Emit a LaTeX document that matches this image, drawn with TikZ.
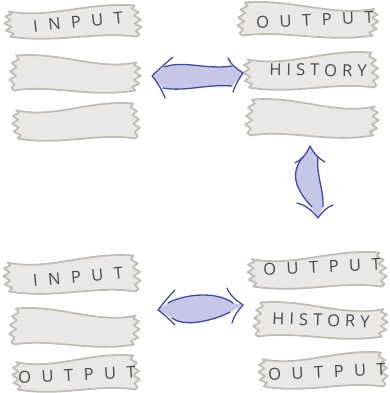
\documentclass[tikz,border=0pt]{standalone}
\usepackage{fontspec}
\setmainfont{Open Sans}
\definecolor{tapefill}{HTML}{EAE8E7}
\definecolor{tapeline}{HTML}{BFBDB5}
\definecolor{inkgrey}{HTML}{4A4A4A}
\definecolor{arrfill}{HTML}{C6C7E6}
\definecolor{arrline}{HTML}{3D4BB0}
\tikzset{
  tape/.style={fill=tapefill,draw=tapeline,line width=1.8pt,line join=round},
  label/.style={text=inkgrey,font=\fontsize{16.5}{16.5}\selectfont,inner sep=0pt},
  arrbody/.style={fill=arrfill},
  arrstroke/.style={draw=arrline,line width=1.3pt,line cap=round,line join=round}
}
% \tape{x0}{y0}{x1}{y1}{xscale}
\newcommand\tape[5]{%
  \pgfmathsetmacro\tw{#3-#1}\pgfmathsetmacro\th{#4-#2}%
  \begin{scope}[shift={(#1,#2)}]
  \begin{scope}[x=\tw pt,y=-\th pt,shift={(0.5,0)},xscale=#5,shift={(-0.5,0)}]
  \path[tape] (0.04,0.22) .. controls (0.33,0.44) and (0.6,-0.06) .. (0.94,0.04)
    -- (0.92,0.14) -- (0.97,0.24) -- (0.935,0.34) -- (0.985,0.46) -- (0.94,0.57)
    -- (0.99,0.68) -- (0.95,0.79) -- (0.975,0.9) -- (0.955,0.96)
    .. controls (0.66,0.8) and (0.38,1.16) .. (0.05,0.96)
    -- (0.075,0.87) -- (0.02,0.78) -- (0.06,0.68) -- (0.01,0.57) -- (0.055,0.47)
    -- (0.015,0.37) -- (0.06,0.29) -- cycle;
  \end{scope}
  \end{scope}}
\newcommand\ls{\kern10.5pt}
\newcommand\lh{\kern5pt}
\begin{document}
\begin{tikzpicture}[x=1pt,y=-1pt]
\useasboundingbox (0,0) rectangle (389,393);
% top-left tapes
\tape{3}{4}{143}{38}{1}
\tape{8}{54}{142}{92}{-1}
\tape{11}{102}{141}{140}{1}
\node[label,rotate=6] (inA) at (78,22) {I\ls N\ls P\ls U\ls T};
% top-right tapes
\tape{236}{1}{380}{37}{-1}
\tape{242}{51}{380}{89}{1}
\tape{244}{98}{380}{137}{-1}
\node[label,rotate=3] (outA) at (315,20) {O\ls U\ls T\ls P\ls U\ls T};
\node[label,rotate=-1] (hisA) at (318,70) {H\lh I\lh S\lh T\lh O\lh R\lh Y};
% bottom-left tapes
\tape{2}{254}{142}{293}{1}
\tape{8}{307}{141}{346}{-1}
\tape{11}{354}{141}{391}{1}
\node[label,rotate=5] (inB) at (78,277) {I\ls N\ls P\ls U\ls T};
\node[label,rotate=3] (outB) at (77,375) {O\ls U\ls T\ls P\ls U\ls T};
% bottom-right tapes
\tape{246}{251}{388}{288}{1}
\tape{252}{301}{389}{338}{-1}
\tape{257}{351}{389}{388}{1}
\node[label,rotate=3] (outC) at (322,267) {O\ls U\ls T\ls P\ls U\ls T};
\node[label,rotate=-2] (hisC) at (321,320) {H\lh I\lh S\lh T\lh O\lh R\lh Y};
\node[label,rotate=3] (outD) at (327,372) {O\ls U\ls T\ls P\ls U\ls T};
% top horizontal arrow
\fill[arrbody] (152,76) -- (164,67) .. controls (185,60) and (205,70) .. (232,66)
  -- (243,73) -- (232,86) .. controls (205,84) and (185,92) .. (163,88) -- cycle;
\draw[arrstroke] (164,67) .. controls (185,60) and (205,70) .. (232,66);
\draw[arrstroke] (163,88) .. controls (185,92) and (205,84) .. (232,86);
\draw[arrstroke] (173,57) .. controls (166,63) and (158,70) .. (152,76)
  .. controls (158,83) and (162,90) .. (165,98);
\draw[arrstroke] (228,58) .. controls (231,65) and (237,69) .. (243,73)
  .. controls (238,80) and (235,86) .. (233,92);
% bottom horizontal arrow
\fill[arrbody] (158,310) -- (168,303) .. controls (182,295) and (215,290) .. (233,303)
  -- (243,305) -- (230,312) .. controls (215,320) and (185,328) .. (172,318) -- cycle;
\draw[arrstroke] (168,303) .. controls (182,295) and (215,290) .. (233,303);
\draw[arrstroke] (172,318) .. controls (185,328) and (215,320) .. (230,312);
\draw[arrstroke] (175,290) .. controls (168,297) and (163,304) .. (158,310)
  .. controls (165,315) and (170,320) .. (175,325);
\draw[arrstroke] (227,288) .. controls (230,296) and (236,300) .. (243,305)
  .. controls (238,310) and (234,316) .. (232,323);
% vertical arrow
\fill[arrbody] (310,146) -- (303,157) .. controls (288,175) and (298,192) .. (312,207)
  -- (318,218) -- (323,207) .. controls (324,190) and (316,175) .. (318,157) -- cycle;
\draw[arrstroke] (303,157) .. controls (288,175) and (298,192) .. (312,207);
\draw[arrstroke] (318,157) .. controls (316,175) and (324,190) .. (323,207);
\draw[arrstroke] (295,163) .. controls (302,160) and (307,153) .. (310,146)
  .. controls (313,153) and (319,159) .. (325,162);
\draw[arrstroke] (297,203) .. controls (305,205) and (312,210) .. (318,218)
  .. controls (322,212) and (327,207) .. (333,205);
\end{tikzpicture}
\end{document}
